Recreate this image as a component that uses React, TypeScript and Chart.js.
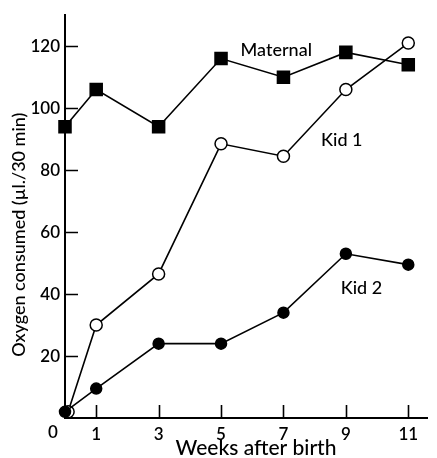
import React, { useEffect, useRef } from "react";
import { Chart, registerables } from "chart.js";

Chart.register(...registerables);

const maternalX = [0, 1, 3, 5, 7, 9, 11];
const maternalY = [94, 106, 94, 116, 110, 118, 114];
const kid1X = [0.1, 1, 3, 5, 7, 9, 11];
const kid1Y = [2, 30, 46.5, 88.5, 84.5, 106, 121];
const kid2X = [0, 1, 3, 5, 7, 9, 11];
const kid2Y = [2, 9.5, 24, 24, 34, 53, 49.5];
const xTicks = [0, 1, 3, 5, 7, 9, 11];
const yTicks = [20, 40, 60, 80, 100, 120];
const xTitle = "Weeks after birth";
const yTitle = "Oxygen consumed (µl./30 min)";
const seriesLabels = [
  { text: "Maternal", x: 6.77, y: 118.7 },
  { text: "Kid 1", x: 8.87, y: 89.6 },
  { text: "Kid 2", x: 9.5, y: 41.8 },
];

const FONT = "Lato, 'Open Sans', sans-serif";

const toPts = (xs: number[], ys: number[]) => xs.map((x, i) => ({ x, y: ys[i] }));

const innerTicks = {
  id: "innerTicks",
  afterDraw(chart: any) {
    const { ctx, chartArea, scales } = chart;
    const xs = scales.x;
    const ys = scales.y;
    ctx.save();
    ctx.strokeStyle = "#000";
    ctx.lineWidth = 1.6;
    ctx.beginPath();
    yTicks.forEach((v) => {
      const py = Math.round(ys.getPixelForValue(v)) + 0.5;
      ctx.moveTo(chartArea.left, py);
      ctx.lineTo(chartArea.left + 13, py);
    });
    xTicks.forEach((v) => {
      if (v === 0) return;
      const px = Math.round(xs.getPixelForValue(v)) + 0.5;
      ctx.moveTo(px, chartArea.bottom);
      ctx.lineTo(px, chartArea.bottom - 13);
    });
    ctx.stroke();
    ctx.fillStyle = "#000";
    ctx.textAlign = "center";
    ctx.textBaseline = "middle";
    // corner zero
    ctx.font = `600 17px ${FONT}`;
    ctx.fillText("0", chartArea.left - 12, chartArea.bottom + 15);
    // series labels
    ctx.font = `500 18px ${FONT}`;
    seriesLabels.forEach((l) => {
      ctx.fillText(l.text, xs.getPixelForValue(l.x), ys.getPixelForValue(l.y));
    });
    // axis titles
    ctx.font = `500 21px ${FONT}`;
    ctx.fillText(xTitle, (chartArea.left + chartArea.right) / 2 + 10, chartArea.bottom + 30);
    ctx.save();
    ctx.font = `500 18px ${FONT}`;
    ctx.translate(chartArea.left - 46, (chartArea.top + chartArea.bottom) / 2 + 18);
    ctx.rotate(-Math.PI / 2);
    ctx.fillText(yTitle, 0, 0);
    ctx.restore();
    ctx.restore();
  },
};

export default function App() {
  const ref = useRef<HTMLCanvasElement>(null);
  useEffect(() => {
    if (!ref.current) return;
    const common = {
      borderColor: "#000",
      borderWidth: 1.6,
      pointBorderColor: "#000",
      pointBorderWidth: 1.5,
      showLine: true,
      clip: false as any,
      tension: 0,
    };
    const chart = new Chart(ref.current, {
      type: "scatter",
      data: {
        datasets: [
          {
            ...common,
            label: "Kid 2",
            data: toPts(kid2X, kid2Y),
            pointStyle: "circle",
            pointRadius: 5.5,
            pointBackgroundColor: "#000",
          },
          {
            ...common,
            label: "Kid 1",
            data: toPts(kid1X, kid1Y),
            pointStyle: "circle",
            pointRadius: 6,
            pointBackgroundColor: "#fff",
          },
          {
            ...common,
            label: "Maternal",
            data: toPts(maternalX, maternalY),
            pointStyle: "rect",
            pointRadius: 8.5,
            pointBackgroundColor: "#000",
          },
        ] as any,
      },
      options: {
        animation: false,
        responsive: false,
        maintainAspectRatio: false,
        layout: { padding: { top: 7, right: 0, left: 0, bottom: 0 } },
        plugins: { legend: { display: false }, tooltip: { enabled: false } },
        scales: {
          x: {
            type: "linear",
            min: 0,
            max: 11.6,
            afterBuildTicks: (s: any) => {
              s.ticks = xTicks.map((v) => ({ value: v }));
            },
            afterFit: (s: any) => {
              s.height = 40;
            },
            grid: { display: false, drawTicks: false },
            border: { display: true, color: "#000", width: 2 },
            ticks: {
              color: "#000",
              padding: 6,
              font: { family: FONT, size: 17, weight: "600" as any },
              callback: (v: any) => (v === 0 ? "" : String(v)),
              maxRotation: 0,
              autoSkip: false,
            },
          },
          y: {
            type: "linear",
            min: 0,
            max: 130,
            afterBuildTicks: (s: any) => {
              s.ticks = yTicks.map((v) => ({ value: v }));
            },
            afterFit: (s: any) => {
              s.width = 65;
            },
            grid: { display: false, drawTicks: false },
            border: { display: true, color: "#000", width: 2 },
            ticks: {
              color: "#000",
              padding: 5,
              font: { family: FONT, size: 17, weight: "600" as any },
              autoSkip: false,
            },
          },
        },
      },
      plugins: [innerTicks],
    });
    return () => chart.destroy();
  }, []);
  return (
    <div style={{ position: "fixed", left: 0, top: 0, width: 437, height: 458, background: "#fff" }}>
      <canvas ref={ref} width={437} height={458} style={{ width: 437, height: 458 }} />
    </div>
  );
}
